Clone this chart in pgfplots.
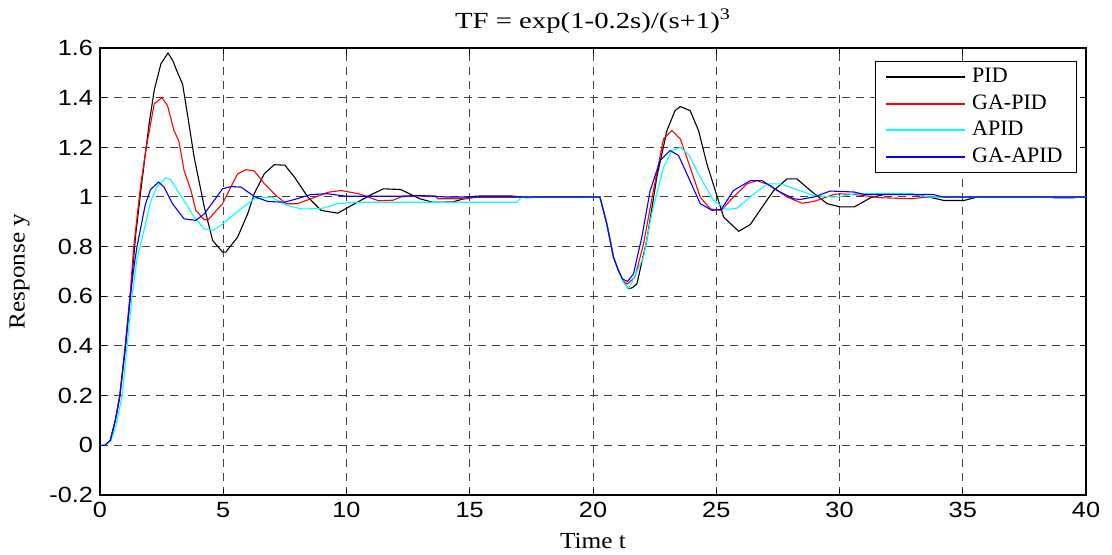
\documentclass[border=0pt]{standalone}
\usepackage{pgfplots}
\pgfplotsset{compat=1.18}
\usepackage{fontspec}
\setmainfont{Liberation Serif}
\newfontfamily\ticksf[FakeStretch=1.15]{Liberation Sans}
\newfontfamily\titlef[FakeStretch=1.25]{Liberation Serif}
\newfontfamily\labf[FakeStretch=1.1]{Liberation Serif}
\definecolor{mcyan}{rgb}{0,1,1}
\definecolor{mblue}{rgb}{0,0,1}
\definecolor{mred}{rgb}{1,0,0}
\begin{document}
\begin{tikzpicture}
\begin{axis}[
  at={(0,0)}, anchor=south west,
  scale only axis, width=493pt, height=223.5pt,
  xmin=0, xmax=40, ymin=-0.2, ymax=1.6,
  xtick={0,5,10,15,20,25,30,35,40},
  ytick={-0.2,0,0.2,0.4,0.6,0.8,1,1.2,1.4,1.6},
  yticklabels={-0.2,0,0.2,0.4,0.6,0.8,1,1.2,1.4,1.6},
  /pgf/number format/assume math mode=true,
  ticklabel style={font=\ticksf\fontsize{11}{12}\selectfont},
  grid=major,
  major grid style={dash pattern=on 4pt off 3pt, black!75, line width=0.5pt},
  tick align=inside, major tick length=3pt,
  tick style={black, line width=0.5pt},
  axis line style={black, line width=0.6pt},
  title={\titlef\fontsize{11.5}{13}\selectfont TF = exp(1-0.2s)/(s+1)\textsuperscript{3}},
  title style={yshift=-2pt},
  xlabel={\labf\fontsize{11.5}{13}\selectfont Time t},
  ylabel={\labf\fontsize{11.5}{13}\selectfont Response y},
  xlabel style={yshift=-1pt},
  ylabel style={yshift=3pt},
  legend style={at={(0.991,0.971)}, anchor=north east, draw=black, line width=0.5pt,
    font=\fontsize{11}{12}\selectfont, inner xsep=5pt, inner ysep=1.5pt,
    row sep=0.5pt, cells={anchor=west}},
  legend cell align=left,
  legend image code/.code={\draw[#1, line width=0.9pt] (0pt,0pt) -- (39.5pt,0pt);},
  every axis plot/.append style={line width=0.55pt},
]
\addplot[color=black] coordinates {
(0,0) (0.2,0) (0.42,0.02) (0.62,0.10) (0.8,0.195) (1.03,0.395) (1.23,0.6) (1.45,0.85) (1.71,1.07) (2.0,1.3) (2.2,1.43) (2.47,1.536) (2.76,1.58) (2.95,1.55) (3.15,1.5) (3.35,1.455) (3.6,1.3) (3.82,1.16) (4.23,0.96) (4.57,0.825) (4.97,0.778) (5.1,0.778) (5.58,0.838) (5.99,0.932) (6.26,1.014) (6.67,1.094) (7.07,1.13) (7.5,1.128) (7.89,1.08) (8.43,1.0) (8.97,0.946) (9.65,0.935) (10.33,0.973) (11.07,1.013) (11.5,1.033) (12.2,1.03) (12.97,0.993) (13.5,0.979) (14.3,0.98) (15.1,1.002) (15.4,1.004) (16.7,1.004) (17.3,0.997) (18,1.0) (20.28,1.0) (20.56,0.892) (20.83,0.758) (21.03,0.704) (21.23,0.66) (21.44,0.63) (21.6,0.635) (21.78,0.65) (22.18,0.825) (22.59,1.08) (23.0,1.268) (23.33,1.348) (23.54,1.364) (23.94,1.348) (24.28,1.268) (24.62,1.133) (24.96,1.026) (25.3,0.919) (25.91,0.862) (26.38,0.889) (26.86,0.959) (27.33,1.026) (27.87,1.073) (28.27,1.073) (28.82,1.026) (29.5,0.973) (30.04,0.96) (30.6,0.96) (31.26,0.997) (31.94,1.013) (32.9,1.012) (33.6,1.0) (34.24,0.986) (35.05,0.986) (35.6,1.0) (38.5,1.0) (38.7,0.997) (39.5,0.997) (39.7,1.0) (40,1.0)
};
\addlegendentry{\hspace{1pt}PID}
\addplot[color=mred] coordinates {
(0,0) (0.2,0) (0.42,0.02) (0.62,0.10) (0.8,0.2) (1.03,0.41) (1.23,0.62) (1.37,0.8) (1.64,1.04) (1.86,1.19) (2.2,1.375) (2.51,1.40) (2.74,1.368) (3.0,1.268) (3.2,1.225) (3.41,1.107) (3.69,1.026) (3.89,0.946) (4.23,0.908) (4.4,0.91) (4.97,0.973) (5.31,1.04) (5.58,1.093) (5.92,1.11) (6.26,1.105) (6.67,1.053) (7.14,1.006) (7.55,0.973) (8.0,0.973) (8.56,0.993) (9.24,1.019) (9.78,1.026) (10.5,1.013) (11.07,0.993) (11.3,0.985) (11.88,0.987) (12.2,1.0) (12.7,1.004) (13.6,1.004) (13.7,0.993) (14.9,0.993) (15.3,1.0) (20.28,1.0) (20.56,0.892) (20.83,0.758) (21.03,0.704) (21.23,0.66) (21.4,0.65) (21.7,0.677) (22.05,0.811) (22.45,1.026) (22.86,1.234) (23.2,1.268) (23.54,1.234) (23.94,1.12) (24.35,0.999) (24.76,0.952) (25.2,0.946) (25.7,1.0) (26.25,1.053) (26.65,1.066) (27.2,1.046) (27.87,1.0) (28.48,0.975) (28.96,0.982) (29.76,1.01) (30.04,1.013) (30.6,1.01) (31.7,0.997) (32.9,0.993) (33.6,1.0) (40,1.0)
};
\addlegendentry{\hspace{1pt}GA-PID}
\addplot[color=mcyan] coordinates {
(0,0) (0.2,0) (0.45,0.02) (0.65,0.08) (0.9,0.2) (1.1,0.4) (1.3,0.6) (1.5,0.75) (1.77,0.86) (2.05,0.98) (2.3,1.04) (2.67,1.077) (2.87,1.07) (3.14,1.026) (3.48,0.973) (3.82,0.919) (4.23,0.872) (4.57,0.866) (4.9,0.885) (5.31,0.919) (5.72,0.952) (6.26,0.993) (6.94,1.0) (7.61,0.966) (8.16,0.952) (8.97,0.953) (9.65,0.973) (10.33,0.979) (14.5,0.979) (16.9,0.979) (17.1,0.999) (20.28,1.0) (20.56,0.892) (20.83,0.758) (21.03,0.704) (21.23,0.657) (21.44,0.63) (21.64,0.67) (22.05,0.758) (22.38,0.932) (22.86,1.12) (23.2,1.187) (23.54,1.20) (23.88,1.17) (24.35,1.08) (24.89,0.986) (25.43,0.95) (25.84,0.955) (26.38,1.0) (27.06,1.053) (27.6,1.053) (28.27,1.03) (28.96,1.006) (29.76,1.0) (30.3,1.006) (30.6,1.013) (32.9,1.013) (33.6,1.0) (40,1.0)
};
\addlegendentry{\hspace{1pt}APID}
\addplot[color=mblue] coordinates {
(0,0) (0.2,0) (0.42,0.02) (0.62,0.10) (0.8,0.195) (1.03,0.395) (1.23,0.6) (1.38,0.72) (1.5,0.8) (1.84,0.97) (2.05,1.03) (2.38,1.06) (2.6,1.04) (2.94,0.973) (3.41,0.912) (3.89,0.906) (4.23,0.932) (4.63,0.986) (4.97,1.033) (5.31,1.042) (5.72,1.04) (6.26,1.002) (6.8,0.982) (7.48,0.979) (8.0,0.993) (8.56,1.01) (9.24,1.013) (10.0,1.003) (12,1.003) (13,1.006) (14,1.0) (20.28,1.0) (20.56,0.892) (20.83,0.758) (21.03,0.704) (21.2,0.67) (21.4,0.66) (21.64,0.69) (21.98,0.838) (22.32,1.026) (22.72,1.147) (23.13,1.187) (23.47,1.167) (23.81,1.093) (24.35,0.973) (24.83,0.946) (25.2,0.95) (25.7,1.026) (26.38,1.066) (26.86,1.066) (27.47,1.026) (28.14,0.993) (28.4,0.99) (28.96,1.0) (29.63,1.024) (30.6,1.02) (31.0,1.01) (33.8,1.01) (34.2,1.0) (40,1.0)
};
\addlegendentry{\hspace{1pt}GA-APID}
\end{axis}
\pgfresetboundingbox
\useasboundingbox (-50pt,-30pt) rectangle (506pt,247.5pt);
\end{tikzpicture}
\end{document}
